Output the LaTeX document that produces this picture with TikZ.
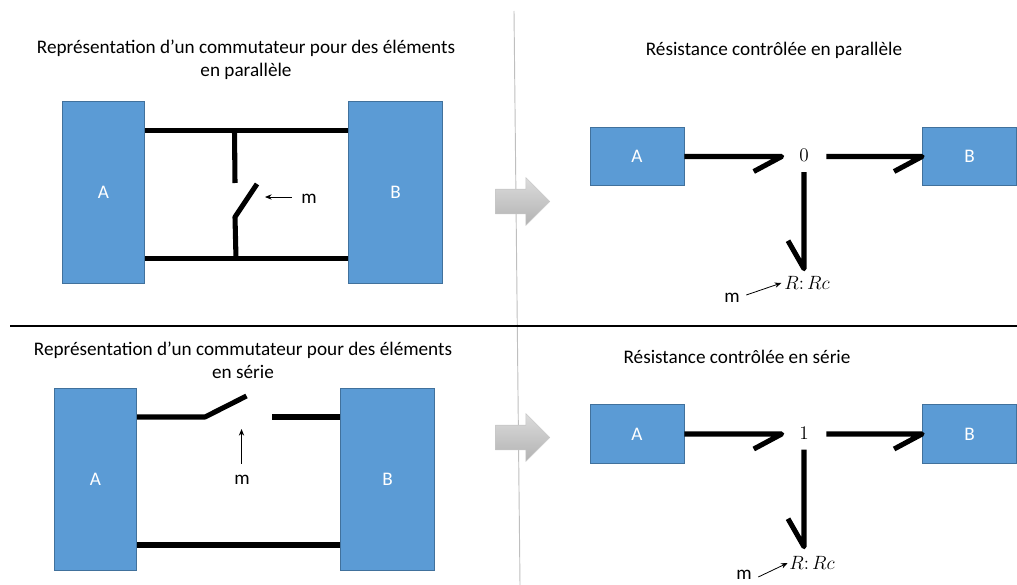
\documentclass[tikz,border=0pt]{standalone}
\usepackage[no-math]{fontspec}
\setmainfont{Carlito}
\usepackage{amsmath}
\usetikzlibrary{arrows.meta, shapes.arrows, calc}

\definecolor{boxblue}{HTML}{5B9BD5}
\definecolor{boxedge}{HTML}{41719C}

\tikzset{
    bloc/.style={draw=boxedge, fill=boxblue, text=white, line width=0.6pt, inner sep=0pt},
    fil/.style={line width=3.8pt, black},
    lien/.style={line width=3.8pt, black, line join=round},
    fleche/.style={-{Stealth[length=5pt,width=4pt]}, line width=0.6pt},
    grosse/.style={single arrow, draw=black!22, top color=black!14, bottom color=black!30,
        inner xsep=0pt, inner ysep=9pt, minimum height=40.5pt,
        single arrow head extend=8.6pt, single arrow head indent=0pt},
    jonction/.style={minimum width=33pt, minimum height=23pt, inner sep=0pt},
    etiq/.style={inner sep=1pt},
    titre/.style={align=center, font=\fontsize{14.4}{17.2}\selectfont}
}

\begin{document}
\begin{tikzpicture}[x=0.75pt, y=-0.75pt, font=\fontsize{14.4}{17.2}\selectfont]
    \useasboundingbox (0,0) rectangle (1017,585);

    % Separators
    \coordinate (sep-h) at (1017,326);
    \coordinate (sep-g) at (10,326);
    \coordinate (sep-t) at (514,11);
    \coordinate (sep-b) at (520,585);
    \draw[black!25, line width=0.7pt] (sep-t) -- (sep-b);
    \draw[black, line width=1.5pt] (sep-g) -- (sep-h);

    % Switch, parallel
    \node[titre] (titre-p) at (246,60) {Représentation d’un commutateur pour des éléments\\en parallèle};
    \node[bloc, minimum width=62pt, minimum height=137pt] (a-p) at (103.5,192.5) {A};
    \node[bloc, minimum width=71pt, minimum height=137pt] (b-p) at (395.5,192.5) {B};
    \coordinate (haut-p) at (234.5,130.5);
    \coordinate (bas-p) at (236,258.5);
    \coordinate (cont-p) at (235,183);
    \coordinate (pivot-p) at (235,217);
    \coordinate (lame-p) at (257,184);
    \draw[fil] (a-p.east |- haut-p) -- (b-p.west |- haut-p);
    \draw[fil] (a-p.east |- bas-p) -- (b-p.west |- bas-p);
    \draw[fil] (haut-p) -- (cont-p);
    \draw[lien] (bas-p) -- (pivot-p) -- (lame-p);
    \node[etiq] (m-p) at (309,199) {m};
    \coordinate (cible-p) at (265,197);
    \draw[fleche] (m-p.west) ++(-8,-2) -- (cible-p);

    % Switch, series
    \node[titre] (titre-s) at (243,360) {Représentation d’un commutateur pour des éléments\\en série};
    \node[bloc, minimum width=62pt, minimum height=137pt] (a-s) at (95.5,479.5) {A};
    \node[bloc, minimum width=71pt, minimum height=137pt] (b-s) at (387.5,479.5) {B};
    \coordinate (haut-s) at (205,417);
    \coordinate (bout-s) at (272,417);
    \coordinate (lame-s) at (246.5,396);
    \coordinate (bas-s) at (240,545);
    \draw[lien] (a-s.east |- haut-s) -- (haut-s) -- (lame-s);
    \draw[fil] (bout-s) -- (b-s.west |- bout-s);
    \draw[fil] (a-s.east |- bas-s) -- (b-s.west |- bas-s);
    \node[etiq] (m-s) at (242,480) {m};
    \coordinate (cible-s) at (241.5,429);
    \draw[fleche] (m-s.north -| cible-s) ++(0,-10) -- (cible-s);

    % Big arrows
    \node[grosse] (gros-p) at (516.5,201.5) {};
    \node[grosse] (gros-s) at (516.5,437.5) {};

    % Controlled resistance, parallel
    \node[titre] (titre-r) at (774,50) {Résistance contrôlée en parallèle};
    \node[bloc, minimum width=70.5pt, minimum height=44pt] (a-r) at (637,156.5) {A};
    \node[bloc, minimum width=70.5pt, minimum height=44pt] (b-r) at (969.5,156.5) {B};
    \node[jonction] (zero) at (804,156.5) {\raisebox{1.5pt}{$0$}};
    \node[minimum height=21pt, inner xsep=2pt] (res-r) at (807,283) {\fontsize{13.5}{16}\selectfont $R{:}\,Rc$};
    \draw[lien] (a-r.east) -- (zero.west) -- ++(-28,15);
    \draw[lien] (zero.east) -- (b-r.west) -- ++(-28,15);
    \draw[lien] (zero.south) -- (zero.south |- res-r.north) -- ++(-16,-28);
    \node[etiq] (m-r) at (732,298) {m};
    \draw[fleche] (m-r.east) ++(5,-3) -- (res-r.west);

    % Controlled resistance, series
    \node[titre] (titre-q) at (737,357) {Résistance contrôlée en série};
    \node[bloc, minimum width=70.5pt, minimum height=44pt] (a-q) at (637,434) {A};
    \node[bloc, minimum width=70.5pt, minimum height=44pt] (b-q) at (969.5,434) {B};
    \node[jonction] (un) at (804,434) {\raisebox{1.5pt}{$1$}};
    \node[minimum height=24pt, inner xsep=1pt] (res-q) at (812,563) {\fontsize{13.5}{16}\selectfont $R{:}\,Rc$};
    \draw[lien] (a-q.east) -- (un.west) -- ++(-28,15);
    \draw[lien] (un.east) -- (b-q.west) -- ++(-28,15);
    \draw[lien] (un.south) -- (un.south |- res-q.north) -- ++(-16,-28);
    \node[etiq] (m-q) at (744,575) {m};
    \draw[fleche] (m-q.east) ++(5,2) -- (res-q.west);
\end{tikzpicture}
\end{document}
